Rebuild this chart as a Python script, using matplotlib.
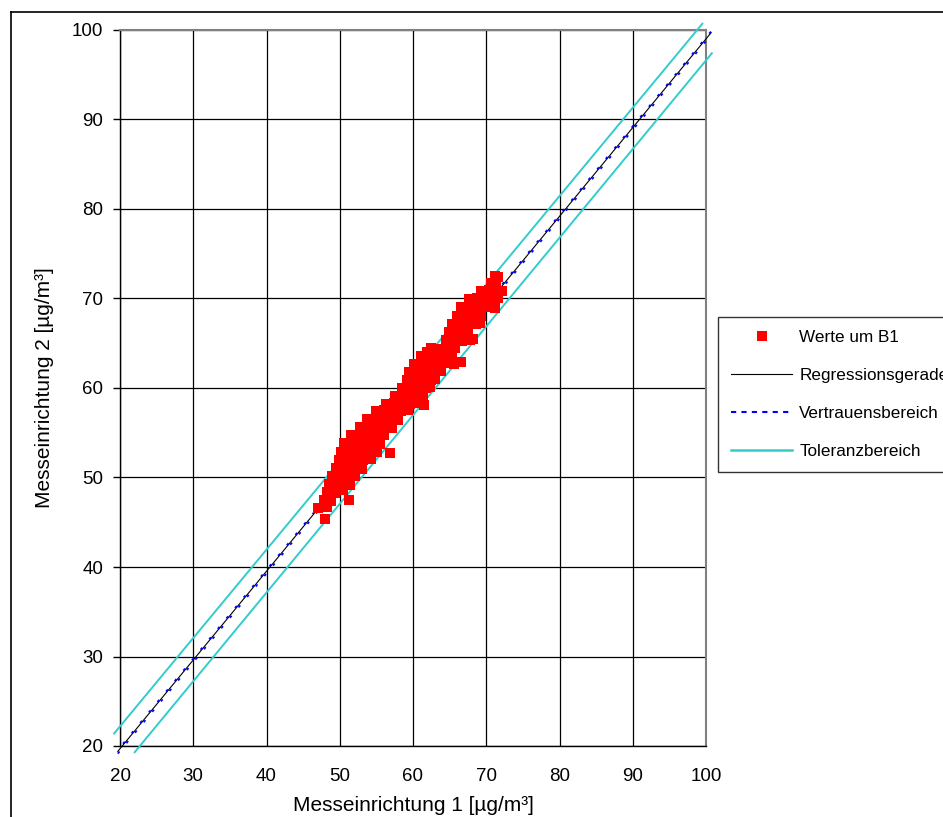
import matplotlib
matplotlib.use("Agg")
import matplotlib.pyplot as plt
from matplotlib.lines import Line2D

plt.rcParams['font.family'] = ['Liberation Sans', 'DejaVu Sans']

# ---- data: measured pairs (Messeinrichtung 1, Messeinrichtung 2), one row per y-band ----
pts = [
    (48.0, 45.4),
    (47.0, 46.6), (48.2, 46.7),
    (47.8, 47.5), (48.8, 47.4), (51.3, 47.5),
    (48.2, 48.4), (49.3, 48.3), (50.4, 48.6),
    (48.6, 49.3), (49.7, 49.2), (50.8, 49.4), (51.4, 49.2),
    (49.0, 50.2), (50.1, 50.1), (51.2, 50.3), (52.1, 50.2),
    (49.5, 51.1), (50.6, 51.0), (51.7, 51.2), (52.8, 51.1), (53.1, 50.9),
    (49.9, 52.0), (51.0, 52.1), (52.1, 51.9), (53.2, 52.0), (54.3, 52.1),
    (50.2, 52.9), (51.3, 53.0), (52.4, 52.8), (53.5, 52.9), (54.6, 53.0), (55.1, 52.8), (56.9, 52.7),
    (50.6, 53.8), (51.7, 53.9), (52.8, 53.7), (53.9, 53.8), (55.0, 53.9), (55.5, 53.7),
    (51.6, 54.7), (52.7, 54.8), (53.8, 54.6), (54.9, 54.7), (56.0, 54.8),
    (52.7, 55.6), (53.8, 55.5), (54.9, 55.7), (56.0, 55.6), (57.1, 55.5),
    (53.7, 56.5), (54.8, 56.4), (55.9, 56.6), (57.0, 56.5), (57.9, 56.4),
    (55.0, 57.4), (56.1, 57.5), (57.2, 57.3), (58.3, 57.4), (59.3, 57.5),
    (56.3, 58.2), (57.4, 58.3), (58.5, 58.1), (59.6, 58.2), (60.7, 58.3), (61.5, 58.1),
    (57.6, 59.1), (58.7, 59.2), (59.8, 59.0), (60.9, 59.1), (61.3, 59.2),
    (58.5, 60.0), (59.6, 60.1), (60.7, 59.9), (61.8, 60.0), (62.3, 60.1),
    (59.2, 60.9), (60.3, 61.0), (61.4, 60.8), (62.5, 60.9), (63.0, 61.0),
    (59.5, 61.8), (60.6, 61.9), (61.7, 61.7), (62.8, 61.8), (63.8, 61.9),
    (60.1, 62.7), (61.2, 62.8), (62.3, 62.6), (63.4, 62.7), (64.5, 62.8), (65.6, 62.7), (66.5, 62.9),
    (61.1, 63.6), (62.2, 63.7), (63.3, 63.5), (64.4, 63.6), (65.3, 63.7),
    (61.9, 64.0), (62.5, 64.5), (63.6, 64.4), (64.7, 64.6), (65.8, 64.5),
    (64.5, 65.4), (65.6, 65.5), (66.7, 65.3), (67.8, 65.4), (68.2, 65.5),
    (64.9, 66.3), (66.0, 66.4), (67.1, 66.2), (67.5, 66.3),
    (65.3, 67.2), (66.4, 67.3), (67.5, 67.1), (68.6, 67.2), (69.1, 67.3),
    (66.0, 68.1), (67.1, 68.2), (68.2, 68.0), (69.3, 68.1),
    (66.5, 69.0), (67.6, 69.1), (68.7, 68.9), (69.8, 69.0), (70.9, 69.1), (71.2, 68.9),
    (67.7, 69.9), (68.8, 70.0), (69.9, 69.8), (71.0, 69.9), (71.6, 70.0),
    (69.3, 70.8), (70.4, 70.9), (71.5, 70.7), (72.1, 70.8),
    (70.7, 71.7), (71.3, 71.8),
    (71.2, 72.5), (71.6, 72.4),
]
pts_x = [p[0] for p in pts]
pts_y = [p[1] for p in pts]

reg_x = [19.7, 100.7]
reg_y = [19.4, 99.7]
conf_lo_y = [19.15, 99.45]
conf_hi_y = [19.55, 99.85]
tol_up_x = [19.2, 99.5]
tol_up_y = [21.4, 100.7]
tol_lo_x = [22.0, 100.8]
tol_lo_y = [19.3, 97.4]

ticks = [20, 30, 40, 50, 60, 70, 80, 90, 100]
labels = ["Werte um B1", "Regressionsgerade", "Vertrauensbereich", "Toleranzbereich"]
xlabel = "Messeinrichtung 1 [µg/m³]"
ylabel = "Messeinrichtung 2 [µg/m³]"

W, H = 943, 817
fig = plt.figure(figsize=(W / 100, H / 100), dpi=100)
ax = fig.add_axes([120 / W, 1 - 746 / H, 586 / W, 716 / H])

cyan = '#33CCCC'
ax.plot(tol_up_x, tol_up_y, color=cyan, lw=1.4, clip_on=False, zorder=3)
ax.plot(tol_lo_x, tol_lo_y, color=cyan, lw=1.4, clip_on=False, zorder=3)
ax.plot(reg_x, reg_y, color='black', lw=0.8, clip_on=False, zorder=4)
ax.plot(reg_x, conf_lo_y, color='blue', lw=1.3, ls=(0, (1.5, 6)), clip_on=False, zorder=4)
ax.plot(reg_x, conf_hi_y, color='blue', lw=1.3, ls=(3, (1.5, 6)), clip_on=False, zorder=4)
ax.plot(pts_x, pts_y, 's', color='red', markersize=7.2, markeredgewidth=0, zorder=6, clip_on=False)

ax.set_xlim(20, 100)
ax.set_ylim(20, 100)
ax.set_xticks(ticks)
ax.set_yticks(ticks)
ax.grid(True, color='black', lw=0.9)
ax.set_axisbelow(True)
for s in ['top', 'right']:
    ax.spines[s].set_color('#808080')
    ax.spines[s].set_linewidth(1.5)
for s in ['left', 'bottom']:
    ax.spines[s].set_color('black')
    ax.spines[s].set_linewidth(1.0)
ax.tick_params(axis='y', length=5, width=1, pad=7, labelsize=13.5)
ax.tick_params(axis='x', length=0, pad=16, labelsize=13.5)
ax.set_xlabel(xlabel, fontsize=15, labelpad=8)
ax.set_ylabel(ylabel, fontsize=15, labelpad=13)

handles = [
    Line2D([], [], marker='s', color='red', ls='none', markersize=7.2, markeredgewidth=0),
    Line2D([], [], color='black', lw=0.8),
    Line2D([], [], color='blue', lw=1.5, ls=(0, (2.5, 2.5))),
    Line2D([], [], color=cyan, lw=1.8),
]
leg = fig.legend(handles, labels, loc='upper left', bbox_to_anchor=(718 / W, 1 - 317 / H),
                 frameon=True, fancybox=False, edgecolor='black', fontsize=12.3,
                 handlelength=3.6, handletextpad=0.4, labelspacing=1.35, borderpad=0.75,
                 borderaxespad=0)
leg.get_frame().set_linewidth(1.0)

fig.add_artist(Line2D([10.5 / W, 10.5 / W], [0, 1 - 11.5 / H], transform=fig.transFigure,
                      color='black', lw=1.2))
fig.add_artist(Line2D([10.5 / W, 1], [1 - 11.5 / H, 1 - 11.5 / H], transform=fig.transFigure,
                      color='black', lw=1.2))

fig.savefig("out.png", dpi=100)
